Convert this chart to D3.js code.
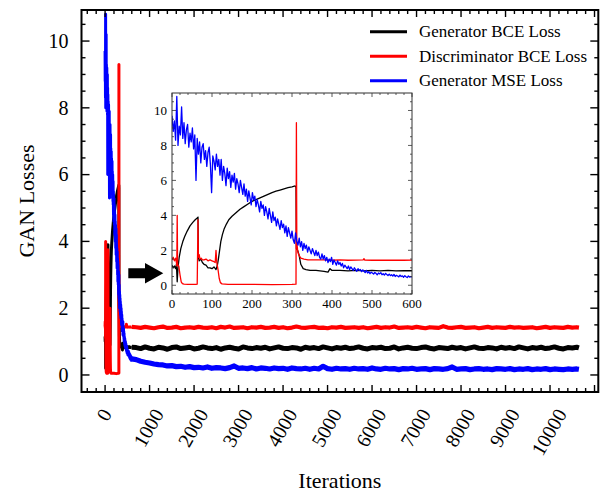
<!DOCTYPE html>
<html><head><meta charset="utf-8">
<script src="https://cdn.jsdelivr.net/npm/d3@7"></script>
<style>body{margin:0;background:#fff}svg{display:block}</style>
</head><body><svg id="c" width="606" height="496"></svg>
<script>
// ---------- data ----------
const seriesNames = ["Generator BCE Loss","Discriminator BCE Loss","Generator MSE Loss"];
const seriesColors = ["#000000","#ff0000","#0000ff"];
const mainXTicks = [0,1000,2000,3000,4000,5000,6000,7000,8000,9000,10000];
const mainYTicks = [0,2,4,6,8,10];
const insetXTicks = [0,100,200,300,400,500,600];
const insetYTicks = [0,2,4,6,8,10];

// first 600 iterations (shown in inset)
const blueIter = d3.range(0, 601, 3);
const blueVals = [
 9.7,8.8,9.4,8.3,10.8,8.0,9.1,8.6,10.2,8.4,9.3,8.1,8.9,9.2,7.9,8.7,8.2,9.0,7.8,8.6,
 6.0,8.4,7.5,8.2,7.0,7.9,8.1,7.2,7.7,6.8,7.6,7.9,6.9,5.3,7.4,7.1,6.6,7.5,6.8,7.2,
 6.3,7.2,6.0,6.8,6.4,5.7,6.7,6.1,6.5,5.6,6.3,5.9,6.4,5.5,6.1,5.8,5.3,6.0,5.6,5.2,
 5.8,5.1,5.5,4.8,5.4,5.0,4.6,5.3,4.9,5.1,4.5,4.9,4.6,4.2,4.8,4.4,4.6,4.0,4.5,4.2,
 3.8,4.4,4.0,3.6,4.2,3.7,3.9,3.4,3.8,3.5,3.2,3.7,3.3,3.5,3.0,3.4,2.8,3.3,3.0,2.7,
 3.1,2.6,2.4,3.0,2.5,2.3,2.7,2.2,2.5,2.0,2.4,2.1,2.3,1.9,2.2,2.0,1.8,2.1,1.9,1.7,
 2.0,1.7,1.9,1.6,1.5,1.8,1.5,1.7,1.4,1.6,1.3,1.5,1.35,1.6,1.2,1.45,1.3,1.15,1.4,1.2,
 1.3,1.1,1.25,1.0,1.15,1.05,0.95,1.1,0.9,1.05,0.95,0.85,1.0,0.9,0.8,0.95,0.85,0.9,0.78,0.88,
 0.8,0.72,0.85,0.7,0.78,0.66,0.75,0.7,0.64,0.73,0.68,0.6,0.7,0.65,0.72,0.6,0.66,0.58,0.68,0.62,
 0.56,0.64,0.55,0.6,0.52,0.62,0.5,0.57,0.53,0.48,0.58,0.5,0.54,0.46,0.55,0.49,0.44,0.53,0.47,0.5,
 0.48];
const blackIter = [0,3,6,9,11,13,15,18,22,27,32,38,45,52,58,63,65,66,68,72,76,80,85,90,95,100,105,110,113,116,119,122,126,130,136,142,150,160,170,180,190,200,210,220,230,240,250,260,270,280,290,300,308,310,311,314,318,322,328,335,345,360,380,390,395,400,420,440,460,480,500,520,540,560,580,600];
const blackVals = [1.15,1.0,1.1,0.95,1.2,0.2,1.0,1.6,2.1,2.5,2.8,3.1,3.4,3.6,3.75,3.85,3.9,1.6,1.4,1.5,1.3,1.2,1.15,1.0,1.0,0.95,1.05,0.9,1.1,1.5,2.0,2.5,2.9,3.2,3.5,3.75,3.95,4.15,4.35,4.5,4.65,4.8,4.9,5.0,5.1,5.2,5.3,5.38,5.45,5.52,5.58,5.63,5.68,5.6,2.1,2.0,1.7,1.2,0.95,0.9,0.85,0.85,0.8,0.75,0.95,0.85,0.85,0.82,0.85,0.82,0.85,0.82,0.85,0.82,0.83,0.83];
const redIter = [0,3,6,9,11,12,13,14,17,20,23,26,30,40,50,60,63,65,66,68,70,73,76,80,85,90,95,100,105,108,110,112,115,118,121,125,140,200,250,300,310,311,312,314,316,318,322,330,340,360,380,400,420,440,460,478,480,482,500,520,540,560,580,600];
const redVals = [1.45,1.6,1.4,1.55,1.3,1.1,4.0,1.2,1.1,0.6,0.2,0.1,0.07,0.05,0.05,0.05,0.06,3.75,1.6,1.75,1.5,1.55,1.45,1.45,1.5,1.4,1.45,1.4,1.35,1.3,2.0,1.3,0.9,0.4,0.15,0.08,0.05,0.05,0.04,0.05,0.06,9.3,2.5,2.0,1.8,1.7,1.55,1.5,1.45,1.45,1.45,1.43,1.45,1.43,1.44,1.45,1.52,1.44,1.43,1.44,1.43,1.44,1.43,1.44];

// remaining iterations (main chart only)
const tailIter = d3.range(700, 10601, 100).concat([10650]);
const redTail = [
 1.43,1.41,1.44,1.42,1.40,1.43,1.45,1.41,1.42,1.44,
 1.40,1.42,1.43,1.41,1.44,1.42,1.41,1.43,1.40,1.44,
 1.42,1.45,1.41,1.42,1.43,1.40,1.43,1.42,1.44,1.41,
 1.42,1.44,1.41,1.43,1.40,1.42,1.45,1.42,1.41,1.43,
 1.44,1.41,1.42,1.40,1.43,1.42,1.44,1.41,1.42,1.43,
 1.41,1.43,1.40,1.42,1.44,1.41,1.43,1.42,1.45,1.41,
 1.42,1.43,1.41,1.44,1.42,1.40,1.43,1.42,1.41,1.46,
 1.42,1.41,1.43,1.44,1.41,1.42,1.43,1.40,1.42,1.44,
 1.41,1.43,1.42,1.41,1.44,1.42,1.43,1.41,1.42,1.43,
 1.40,1.42,1.44,1.41,1.43,1.42,1.41,1.44,1.42,1.43,
 1.42];
const blackTail = [
 0.82,0.79,0.84,0.80,0.78,0.83,0.81,0.77,0.82,0.84,
 0.79,0.81,0.83,0.78,0.80,0.84,0.81,0.79,0.82,0.77,
 0.81,0.83,0.80,0.78,0.84,0.81,0.79,0.82,0.80,0.83,
 0.78,0.81,0.84,0.80,0.79,0.82,0.81,0.77,0.83,0.80,
 0.82,0.79,0.84,0.81,0.78,0.82,0.80,0.83,0.79,0.81,
 0.84,0.80,0.78,0.82,0.81,0.83,0.79,0.80,0.84,0.78,
 0.81,0.83,0.80,0.79,0.82,0.84,0.80,0.78,0.82,0.81,
 0.79,0.83,0.80,0.82,0.78,0.81,0.84,0.80,0.79,0.82,
 0.81,0.78,0.83,0.80,0.82,0.79,0.84,0.81,0.78,0.82,
 0.80,0.83,0.79,0.81,0.84,0.80,0.78,0.82,0.81,0.83,
 0.81];
const blueTail = [
 0.46,0.41,0.38,0.36,0.33,0.31,0.30,0.27,0.28,0.25,
 0.26,0.23,0.25,0.22,0.23,0.21,0.24,0.20,0.22,0.21,
 0.19,0.22,0.27,0.20,0.21,0.19,0.22,0.18,0.21,0.20,
 0.18,0.21,0.19,0.20,0.17,0.21,0.19,0.18,0.20,0.17,
 0.20,0.18,0.26,0.19,0.17,0.20,0.18,0.19,0.17,0.20,
 0.18,0.19,0.17,0.21,0.18,0.17,0.20,0.18,0.19,0.16,
 0.19,0.18,0.20,0.17,0.18,0.19,0.16,0.19,0.18,0.17,
 0.19,0.24,0.17,0.18,0.19,0.16,0.18,0.19,0.17,0.18,
 0.16,0.19,0.18,0.17,0.19,0.16,0.18,0.17,0.19,0.16,
 0.18,0.17,0.19,0.16,0.18,0.17,0.16,0.18,0.17,0.18,
 0.17];

// ---------- drawing ----------
const FONT = "'Liberation Serif', 'Times New Roman', Times, 'DejaVu Serif', serif";
const svg = d3.select("#c").attr("font-family", FONT);
const txt = (g) => g.append("text").attr("font-family", FONT).attr("fill", "#000");
const zip = (xs, ys) => xs.map((v, i) => [v, ys[i]]);
const early = [zip(blackIter, blackVals), zip(redIter, redVals), zip(blueIter, blueVals)];
const tails = [blackTail, redTail, blueTail].map((t, i) => [early[i][early[i].length-1]].concat(zip(tailIter, t)));
const tailWidths = [5, 4.2, 5.2];

const M = {l:81.5, r:598.3, t:10, b:392};
const x = d3.scaleLinear().domain([-530, 11085]).range([M.l, M.r]);
const y = d3.scaleLinear().domain([-0.51, 10.93]).range([M.b, M.t]);

svg.append("clipPath").attr("id","mclip").append("rect")
  .attr("x",M.l).attr("y",M.t).attr("width",M.r-M.l).attr("height",M.b-M.t);

const mainG = svg.append("g").attr("clip-path","url(#mclip)");
const line = d3.line().x(d => x(d[0])).y(d => y(d[1]));
[0,1,2].forEach(i => {
  mainG.append("path").attr("d", line(early[i])).attr("fill","none")
    .attr("stroke", seriesColors[i]).attr("stroke-width", 3).attr("stroke-linejoin","round");
  mainG.append("path").attr("d", line(tails[i])).attr("fill","none")
    .attr("stroke", seriesColors[i]).attr("stroke-width", tailWidths[i]).attr("stroke-linejoin","round");
});

// main ticks (inward, all sides)
const tk = svg.append("g").attr("stroke","#000").attr("stroke-width",1.4);
d3.range(-400, 11001, 200).forEach(v => {
  const L = v % 1000 === 0 ? 7 : 4;
  tk.append("line").attr("x1",x(v)).attr("x2",x(v)).attr("y1",M.b).attr("y2",M.b-L);
  tk.append("line").attr("x1",x(v)).attr("x2",x(v)).attr("y1",M.t).attr("y2",M.t+L);
});
d3.range(-0.5, 10.51, 0.5).forEach(v => {
  const L = Math.abs(v % 2) < 1e-9 ? 8 : 4;
  tk.append("line").attr("y1",y(v)).attr("y2",y(v)).attr("x1",M.l).attr("x2",M.l+L);
  tk.append("line").attr("y1",y(v)).attr("y2",y(v)).attr("x1",M.r).attr("x2",M.r-L);
});
svg.append("rect").attr("x",M.l).attr("y",M.t).attr("width",M.r-M.l).attr("height",M.b-M.t)
  .attr("fill","none").attr("stroke","#000").attr("stroke-width",2);

// y tick labels
mainYTicks.forEach(v => {
  txt(svg).attr("x", M.l-13).attr("y", y(v)).attr("dy","0.34em")
    .attr("text-anchor","end").attr("font-size",20).text(v);
});
// x tick labels rotated
mainXTicks.forEach(v => {
  const t = txt(svg).attr("text-anchor","middle").attr("font-size",20)
    .attr("dy","0.34em").text(v);
  const L = t.node().getComputedTextLength();
  const h = 13.6;
  const cy = 407 + (L*Math.sin(Math.PI/3) + h*0.5)/2;
  const cx = x(v) - 1;
  t.attr("transform",`translate(${cx},${cy}) rotate(-60)`);
});
txt(svg).attr("x",(M.l+M.r)/2).attr("y",488).attr("text-anchor","middle")
  .attr("font-size",22).text("Iterations");
txt(svg).attr("transform",`translate(34,${(M.t+M.b)/2}) rotate(-90)`)
  .attr("text-anchor","middle").attr("font-size",22).text("GAN Losses");

// legend
seriesNames.forEach((n, i) => {
  const yy = 31.7 + i*24.5;
  svg.append("line").attr("x1",370).attr("x2",407).attr("y1",yy).attr("y2",yy)
    .attr("stroke",seriesColors[i]).attr("stroke-width",3);
  txt(svg).attr("x",419).attr("y",yy).attr("dy","0.33em").attr("font-size",17).text(n);
});

// arrow
svg.append("path").attr("d","M128.3,268.3 H145 V263 L163.3,273.3 L145,283.5 V278.3 H128.3 Z").attr("fill","#000");

// ---------- inset ----------
const I = {l:172, r:412, t:93, b:294};
const ix = d3.scaleLinear().domain([0,600]).range([I.l, I.r]);
const iy = d3.scaleLinear().domain([-0.5, 11]).range([I.b, I.t]);
svg.append("rect").attr("x",I.l).attr("y",I.t).attr("width",I.r-I.l).attr("height",I.b-I.t).attr("fill","#fff");
svg.append("clipPath").attr("id","iclip").append("rect")
  .attr("x",I.l).attr("y",I.t).attr("width",I.r-I.l).attr("height",I.b-I.t);
const insetG = svg.append("g").attr("clip-path","url(#iclip)");
const iline = d3.line().x(d => ix(d[0])).y(d => iy(d[1]));
early.forEach((s, i) => {
  insetG.append("path").attr("d", iline(s)).attr("fill","none")
    .attr("stroke", seriesColors[i]).attr("stroke-width", 1.3).attr("stroke-linejoin","round");
});
const itk = svg.append("g").attr("stroke","#333").attr("stroke-width",0.8);
d3.range(0, 601, 20).forEach(v => {
  const L = v % 100 === 0 ? 4 : 2;
  itk.append("line").attr("x1",ix(v)).attr("x2",ix(v)).attr("y1",I.b).attr("y2",I.b-L);
  itk.append("line").attr("x1",ix(v)).attr("x2",ix(v)).attr("y1",I.t).attr("y2",I.t+L);
});
d3.range(-0.5, 10.51, 0.5).forEach(v => {
  const L = Math.abs(v % 2) < 1e-9 ? 4 : 2;
  itk.append("line").attr("y1",iy(v)).attr("y2",iy(v)).attr("x1",I.l).attr("x2",I.l+L);
  itk.append("line").attr("y1",iy(v)).attr("y2",iy(v)).attr("x1",I.r).attr("x2",I.r-L);
});
svg.append("rect").attr("x",I.l).attr("y",I.t).attr("width",I.r-I.l).attr("height",I.b-I.t)
  .attr("fill","none").attr("stroke","#333").attr("stroke-width",1);
insetYTicks.forEach(v => {
  txt(svg).attr("x", I.l-5).attr("y", iy(v)).attr("dy","0.34em")
    .attr("text-anchor","end").attr("font-size",13).text(v);
});
insetXTicks.forEach(v => {
  txt(svg).attr("x", ix(v)).attr("y", 307.5)
    .attr("text-anchor","middle").attr("font-size",13).text(v);
});
</script></body></html>
